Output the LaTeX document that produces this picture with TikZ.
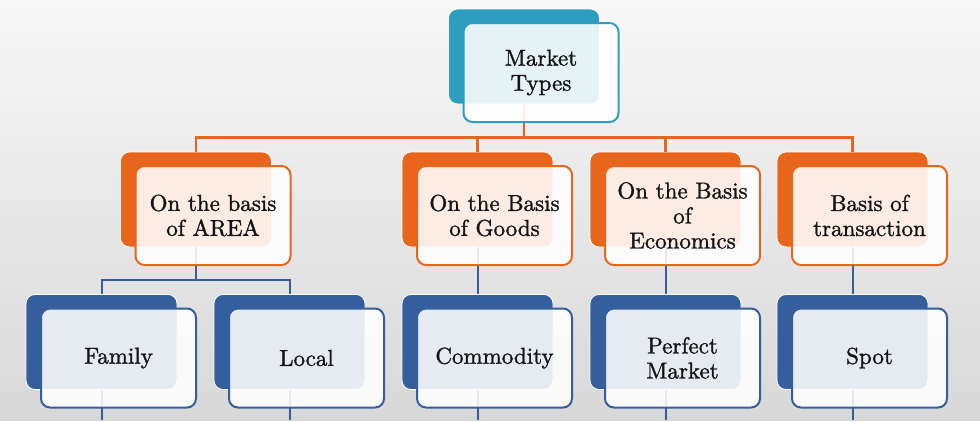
\documentclass[tikz,border=0pt]{standalone}
\usetikzlibrary{positioning}
\usepackage{xcolor}
\DeclareFontFamily{TU}{lmten}{}
\DeclareFontShape{TU}{lmten}{m}{n}{<-> \UnicodeFontFile{lmroman10-regular}{\UnicodeFontTeXLigatures;embolden=1.3}}{}
\definecolor{tealc}{RGB}{46,158,192}
\definecolor{orangec}{RGB}{232,101,28}
\definecolor{bluec}{RGB}{52,94,156}
\definecolor{bgtop}{RGB}{248,248,248}
\definecolor{bgbot}{RGB}{216,216,216}
\definecolor{ink}{RGB}{20,20,20}

\begin{document}
\begin{tikzpicture}[
  x=1pt, y=-1pt,
  back/.style={rounded corners=9pt, minimum width=151pt, minimum height=95pt, inner sep=0pt, draw=white, line width=0.8pt},
  front/.style={draw, rounded corners=9pt, minimum width=155pt, minimum height=99pt, inner sep=0pt, line width=2pt, fill=white, fill opacity=0.88, text opacity=1, align=center, text=ink, font=\fontfamily{lmten}\fontsize{23}{25}\selectfont},
  toplink/.style={draw=orangec, line width=2.4pt},
  sublink/.style={draw=bluec, line width=2pt}
]

% Background
\shade[top color=bgtop, bottom color=bgbot] (0,0) rectangle (980,420);
\coordinate (floor) at (0,420);

% Back boxes
\node[back, fill=tealc] (mt-bg) at (524,56.5) {};
\node[back, fill=orangec] (area-bg) at (196,199.5) {};
\node[back, fill=orangec] (goods-bg) at (477.5,199.5) {};
\node[back, fill=orangec] (econ-bg) at (665.5,199.5) {};
\node[back, fill=orangec] (trans-bg) at (852.5,199.5) {};
\node[back, fill=bluec] (fam-bg) at (101.5,342) {};
\node[back, fill=bluec] (loc-bg) at (289.5,342) {};
\node[back, fill=bluec] (comm-bg) at (477.5,342) {};
\node[back, fill=bluec] (perf-bg) at (665.5,342) {};
\node[back, fill=bluec] (spot-bg) at (852.5,342) {};

% Market types to the four bases
\draw[toplink] (mt-bg.south) -- ++(0,33) -| (area-bg.north);
\draw[toplink] (mt-bg.south) -- ++(0,33) -| (goods-bg.north);
\draw[toplink] (mt-bg.south) -- ++(0,33) -| (econ-bg.north);
\draw[toplink] (mt-bg.south) -- ++(0,33) -| (trans-bg.north);

% Bases to the market kinds
\draw[sublink] (area-bg.south) -- ++(0,33) -| (fam-bg.north);
\draw[sublink] (area-bg.south) -- ++(0,33) -| (loc-bg.north);
\draw[sublink] (goods-bg.south) -- (comm-bg.north);
\draw[sublink] (econ-bg.south) -- (perf-bg.north);
\draw[sublink] (trans-bg.south) -- (spot-bg.north);

% Lines running on below the picture
\draw[sublink] (fam-bg.south) -- (fam-bg.south |- floor);
\draw[sublink] (loc-bg.south) -- (loc-bg.south |- floor);
\draw[sublink] (comm-bg.south) -- (comm-bg.south |- floor);
\draw[sublink] (perf-bg.south) -- (perf-bg.south |- floor);
\draw[sublink] (spot-bg.south) -- (spot-bg.south |- floor);

% Front boxes
\node[front, draw=tealc] (mt) at ([shift={(17,16)}]mt-bg.center) {Market\\Types};
\node[front, draw=orangec] (area) at ([shift={(17,16)}]area-bg.center) {On the basis\\of AREA};
\node[front, draw=orangec] (goods) at ([shift={(17,16)}]goods-bg.center) {On the Basis\\of Goods};
\node[front, draw=orangec] (econ) at ([shift={(17,16)}]econ-bg.center) {On the Basis\\of\\Economics};
\node[front, draw=orangec] (trans) at ([shift={(17,16)}]trans-bg.center) {Basis of\\transaction};
\node[front, draw=bluec] (fam) at ([shift={(17,16)}]fam-bg.center) {Family};
\node[front, draw=bluec] (loc) at ([shift={(17,16)}]loc-bg.center) {Local};
\node[front, draw=bluec] (comm) at ([shift={(17,16)}]comm-bg.center) {Commodity};
\node[front, draw=bluec] (perf) at ([shift={(17,16)}]perf-bg.center) {Perfect\\Market};
\node[front, draw=bluec] (spot) at ([shift={(17,16)}]spot-bg.center) {Spot};

\end{tikzpicture}
\end{document}
